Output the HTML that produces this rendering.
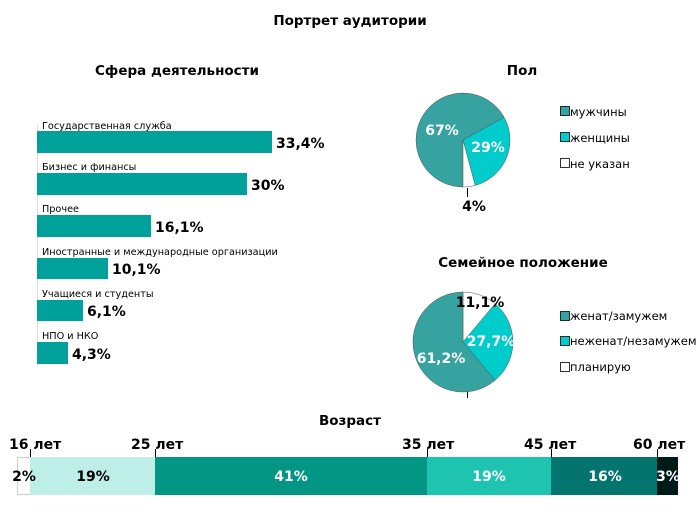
<!DOCTYPE html>
<html><head><meta charset="utf-8"><style>
html,body{margin:0;padding:0;background:#fff;}
svg{display:block;font-family:"DejaVu Sans","Liberation Sans",sans-serif;}
</style></head><body>
<svg width="700" height="526" viewBox="0 0 700 526" xmlns="http://www.w3.org/2000/svg">
<rect width="700" height="526" fill="#fff"/>
<g font-weight="bold" font-size="13.5" text-anchor="middle" fill="#000">
<text x="350" y="25">Портрет аудитории</text>
<text x="177" y="75">Сфера деятельности</text>
<text x="522" y="75">Пол</text>
<text x="523" y="267">Семейное положение</text>
<text x="350" y="425">Возраст</text>
</g>
<line x1="37.5" y1="125" x2="37.5" y2="366" stroke="#ddd"/>
<g fill="#00a19b">
<rect x="37" y="131" width="235" height="22"/>
<rect x="37" y="173" width="210" height="22"/>
<rect x="37" y="215" width="114" height="22"/>
<rect x="37" y="258" width="71" height="21"/>
<rect x="37" y="300" width="46" height="21"/>
<rect x="37" y="342" width="31" height="22"/>
</g>
<g font-size="9.7" fill="#000">
<text x="42" y="129">Государственная служба</text>
<text x="42" y="170">Бизнес и финансы</text>
<text x="42" y="212">Прочее</text>
<text x="42" y="255">Иностранные и международные организации</text>
<text x="42" y="297">Учащиеся и студенты</text>
<text x="42" y="339">НПО и НКО</text>
</g>
<g font-size="14" font-weight="bold" fill="#000">
<text x="276" y="148">33,4%</text>
<text x="251" y="190">30%</text>
<text x="155" y="232">16,1%</text>
<text x="112" y="274">10,1%</text>
<text x="87" y="316">6,1%</text>
<text x="72" y="359">4,3%</text>
</g>
<g stroke="#555" stroke-width="0.5">
<path d="M463,140 L463,187 A47,47 0 1 1 504.1,117.2 Z" fill="#36a3a0"/>
<path d="M463,140 L504.1,117.2 A47,47 0 0 1 475.2,185.4 Z" fill="#00cccc"/>
<path d="M463,140 L475.2,185.4 A47,47 0 0 1 463,187 Z" fill="#fff"/>
</g>
<line x1="467.5" y1="188" x2="467.5" y2="197" stroke="#000"/>
<g font-size="14" font-weight="bold" text-anchor="middle">
<text x="442" y="135" fill="#fff">67%</text>
<text x="488" y="152" fill="#fff">29%</text>
<text x="474" y="211" fill="#000">4%</text>
</g>
<g stroke="#555" stroke-width="0.5">
<path d="M463,342 L463,292 A50,50 0 0 1 495.1,303.7 Z" fill="#fff"/>
<path d="M463,342 L495.1,303.7 A50,50 0 0 1 495.1,380.3 Z" fill="#00cccc"/>
<path d="M463,342 L495.1,380.3 A50,50 0 1 1 463,292 Z" fill="#36a3a0"/>
</g>
<line x1="467.5" y1="392" x2="467.5" y2="398" stroke="#000"/>
<g font-size="14" font-weight="bold" text-anchor="middle">
<text x="480" y="307" fill="#000">11,1%</text>
<text x="491" y="346" fill="#fff">27,7%</text>
<text x="441" y="363" fill="#fff">61,2%</text>
</g>
<g stroke="#000" stroke-width="0.8">
<rect x="560.5" y="106.5" width="9" height="9" fill="#36a3a0"/>
<rect x="560.5" y="132.5" width="9" height="9" fill="#00cccc"/>
<rect x="560.5" y="158.5" width="9" height="9" fill="#fff"/>
<rect x="560.5" y="311.5" width="9" height="9" fill="#36a3a0"/>
<rect x="560.5" y="336.5" width="9" height="9" fill="#00cccc"/>
<rect x="560.5" y="362.5" width="9" height="9" fill="#fff"/>
</g>
<g font-size="11.5" fill="#000">
<text x="570" y="116">мужчины</text>
<text x="570" y="142">женщины</text>
<text x="570" y="168">не указан</text>
<text x="570" y="320">женат/замужем</text>
<text x="570" y="345">неженат/незамужем</text>
<text x="570" y="371">планирую</text>
</g>
<rect x="17.5" y="457.5" width="13" height="37" fill="#fff" stroke="#ccc"/>
<rect x="30" y="457" width="125" height="38" fill="#bdeee8"/>
<rect x="155" y="457" width="272" height="38" fill="#039684"/>
<rect x="427" y="457" width="124" height="38" fill="#1ec4b0"/>
<rect x="551" y="457" width="106" height="38" fill="#03756e"/>
<rect x="657" y="457" width="21" height="38" fill="#001a18"/>
<g stroke="#000" stroke-width="1">
<line x1="30.5" y1="449" x2="30.5" y2="457"/>
<line x1="155.5" y1="449" x2="155.5" y2="457"/>
<line x1="427.5" y1="449" x2="427.5" y2="457"/>
<line x1="551.5" y1="449" x2="551.5" y2="457"/>
<line x1="657.5" y1="449" x2="657.5" y2="457"/>
</g>
<g font-size="14" font-weight="bold" fill="#000">
<text x="9" y="449">16 лет</text>
<text x="131" y="449">25 лет</text>
<text x="402" y="449">35 лет</text>
<text x="524" y="449">45 лет</text>
<text x="633" y="449">60 лет</text>
</g>
<g font-size="14" font-weight="bold" text-anchor="middle">
<text x="24" y="481" fill="#000">2%</text>
<text x="93" y="481" fill="#000">19%</text>
<text x="291" y="481" fill="#fff">41%</text>
<text x="489" y="481" fill="#fff">19%</text>
<text x="605" y="481" fill="#fff">16%</text>
<text x="668" y="481" fill="#fff">3%</text>
</g>
</svg>
</body></html>
